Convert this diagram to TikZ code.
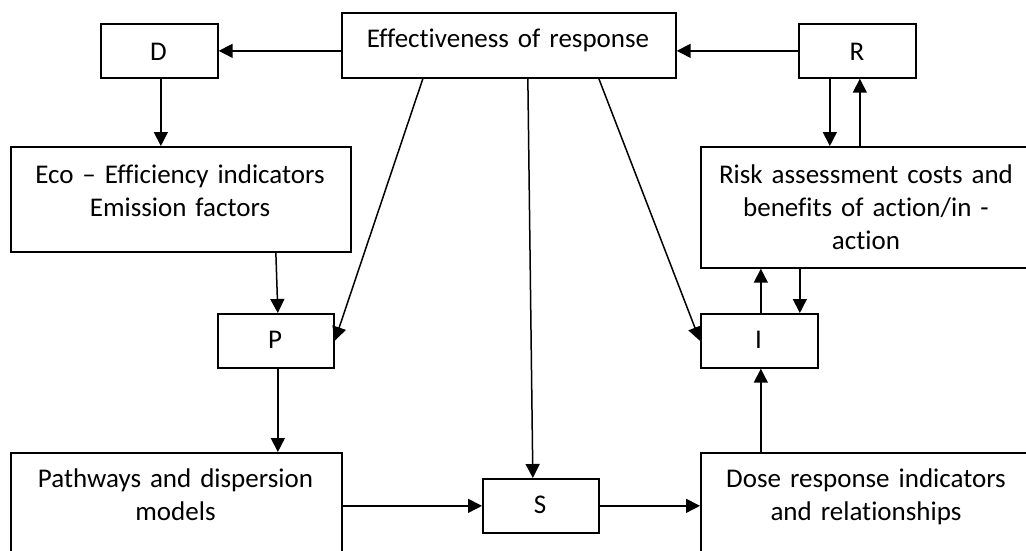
\documentclass[tikz,border=0pt]{standalone}
\usepackage{fontspec}
\setmainfont{Carlito}[Ligatures=NoCommon]
\usetikzlibrary{arrows.meta}
\begin{document}
\begin{tikzpicture}[x=1pt,y=-1pt,
  box/.style={draw,line width=1.7pt,inner sep=0pt,anchor=north west,rectangle},
  lbl/.style={anchor=base,inner sep=0pt,text width=360pt,align=center,font=\fontsize{27}{33}\selectfont},
  conn/.style={line width=1.5pt,-{Triangle[width=14pt,length=14pt]}}]
\useasboundingbox (0,0) rectangle (1026,550);
\clip (0,0) rectangle (1026,550);
% boxes
\node[box,minimum width=334pt,minimum height=65pt] (eff) at (341,12) {};
\node[box,minimum width=117pt,minimum height=54pt] (D) at (100,23) {};
\node[box,minimum width=117pt,minimum height=54pt] (R) at (798,23) {};
\node[box,minimum width=340pt,minimum height=105pt] (eco) at (10,146) {};
\node[box,minimum width=332pt,minimum height=121pt] (risk) at (700,146) {};
\node[box,minimum width=116pt,minimum height=54pt] (P) at (217,313) {};
\node[box,minimum width=117pt,minimum height=54pt] (I) at (700,313) {};
\node[box,minimum width=331pt,minimum height=110pt] (path) at (10,452) {};
\node[box,minimum width=116pt,minimum height=54pt] (S) at (482,478) {};
\node[box,minimum width=332pt,minimum height=110pt] (dose) at (700,452) {};
% labels
\node[lbl] (efft) at (508,47) {Effectiveness of response};
\node[lbl] (Dt) at (158.5,60) {D};
\node[lbl] (Rt) at (857,60) {R};
\node[lbl] (ecot) at (180,183) {Eco – Efficiency indicators\\Emission factors};
\node[lbl] (riskt) at (866,183) {Risk assessment costs and\\benefits of action/in -\\action};
\node[lbl] (Pt) at (275,348) {P};
\node[lbl] (It) at (758.5,348) {I};
\node[lbl] (patht) at (175.5,487) {Pathways and dispersion\\models};
\node[lbl] (St) at (540,513) {S};
\node[lbl] (doset) at (866,487) {Dose response indicators\\and relationships};
% connectors
\draw[conn] (eff.west |- D.east) -- (D.east);
\draw[conn] (R.west) -- (eff.east |- R.west);
\draw[conn] ([xshift=1.5pt]D.south) -- ([xshift=1.5pt]D.south |- eco.north);
\draw[conn] ([xshift=95pt]eco.south) -- ([xshift=2pt]P.north);
\draw[conn] ([xshift=-86pt]eff.south) -- (P.east);
\draw[conn] ([xshift=19pt]eff.south) -- ([xshift=-8pt]S.north);
\draw[conn] ([xshift=90pt]eff.south) -- (I.west);
\draw[conn] ([xshift=2pt]P.south) -- ([xshift=2pt]P.south |- path.north);
\draw[conn] (path.east |- S.west) -- (S.west);
\draw[conn] (S.east) -- (dose.west |- S.east);
\draw[conn] ([xshift=1.5pt]I.south |- dose.north) -- ([xshift=1.5pt]I.south);
\draw[conn] ([xshift=1.5pt]I.north) -- ([xshift=1.5pt]I.north |- risk.south);
\draw[conn] ([xshift=40.5pt]I.north |- risk.south) -- ([xshift=40.5pt]I.north);
\draw[conn] ([xshift=-27.5pt]R.south) -- ([xshift=-27.5pt]R.south |- risk.north);
\draw[conn] ([xshift=2.5pt]R.south |- risk.north) -- ([xshift=2.5pt]R.south);
\end{tikzpicture}
\end{document}
